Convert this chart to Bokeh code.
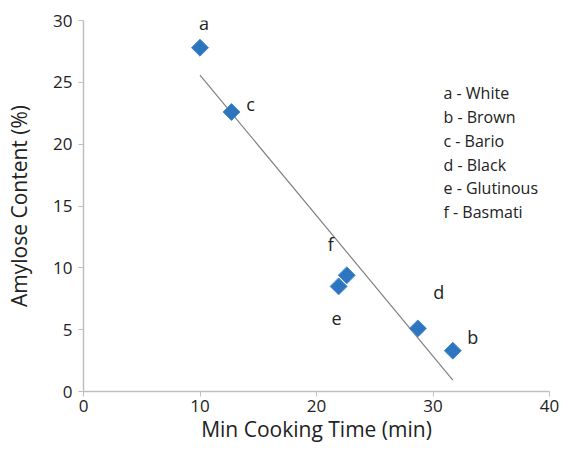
import numpy as np
from bokeh.plotting import figure
from bokeh.models import Range1d, ColumnDataSource, FixedTicker
from bokeh.core.properties import value
from bokeh.embed import file_html
from bokeh.resources import INLINE

# data
letters = ["a", "b", "c", "d", "e", "f"]
names = ["White", "Brown", "Bario", "Black", "Glutinous", "Basmati"]
cook_time = [10.0, 31.7, 12.7, 28.7, 21.9, 22.6]
amylose = [27.8, 3.3, 22.6, 5.1, 8.5, 9.4]
x_ticks = [0, 10, 20, 30, 40]
y_ticks = [0, 5, 10, 15, 20, 25, 30]
legend_lines = ["a - White", "b - Brown", "c - Bario", "d - Black", "e - Glutinous", "f -  Basmati"]

# label pixel offsets (style)
lab_dx = [4, 20, 19, 21, -2, -16]
lab_dy = [-25, -14, -8, -36, 32, -31]

FONT = "Open Sans"
p = figure(width=561, height=445, output_backend="svg", toolbar_location=None,
           x_range=Range1d(0, 40), y_range=Range1d(0, 30),
           min_border_left=83, min_border_right=12, min_border_top=20, min_border_bottom=50)
p.outline_line_color = None
p.xgrid.visible = False
p.ygrid.visible = False

for ax in (p.xaxis[0], p.yaxis[0]):
    ax.axis_line_color = "#bfbfbf"
    ax.axis_line_width = 1.5
    ax.major_tick_line_color = "#bfbfbf"
    ax.major_tick_out = 5
    ax.major_tick_in = 0
    ax.minor_tick_line_color = None
    ax.major_label_text_font = FONT
    ax.major_label_text_font_size = "17px"
    ax.major_label_text_color = "#222222"
    ax.axis_label_text_font = FONT
    ax.axis_label_text_font_size = "21px"
    ax.axis_label_text_font_style = "normal"
    ax.axis_label_text_color = "#222222"

p.xaxis.ticker = FixedTicker(ticks=x_ticks)
p.yaxis.ticker = FixedTicker(ticks=y_ticks)
p.xaxis.axis_label = "Min Cooking Time (min)"
p.yaxis.axis_label = "Amylose Content (%)"
p.xaxis.major_label_standoff = 3
p.yaxis.major_label_standoff = 6
p.xaxis.axis_label_standoff = 0
p.yaxis.axis_label_standoff = 17

# trend line (least squares)
xs = np.array(cook_time)
ys = np.array(amylose)
m, b = np.polyfit(xs, ys, 1)
tx = [xs.min(), xs.max()]
p.line(tx, [m * t + b for t in tx], line_color="#808080", line_width=1.2)

src = ColumnDataSource(dict(x=cook_time, y=amylose, lab=letters, dx=lab_dx, dy=lab_dy))
p.scatter("x", "y", source=src, marker="square", angle=np.pi / 4, size=12,
          fill_color="#2e75c0", line_color="#4a8ad0", line_width=1)
p.text("x", "y", text="lab", source=src, x_offset="dx", y_offset="dy",
       text_font=value(FONT), text_font_size="18px", text_color="#222222",
       text_align="center", text_baseline="middle")

# legend text block
leg_x = [30.9] * len(legend_lines)
leg_y = [24.1 - i * 1.92 for i in range(len(legend_lines))]
p.text(leg_x, leg_y, text=legend_lines, text_font=value(FONT), text_font_size="16px",
       text_color="#222222", text_align="left", text_baseline="middle")

open("out.html", "w").write(file_html(p, INLINE))
